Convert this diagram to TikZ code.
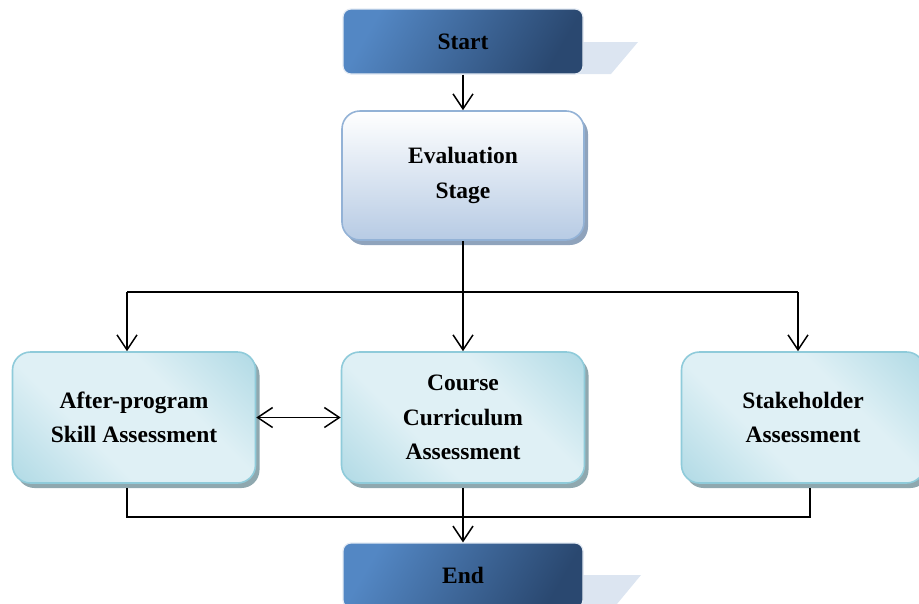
\documentclass[tikz,border=0pt]{standalone}
\usepackage{fontspec}
\setmainfont{Liberation Serif}
\usepackage{tikz}
\usepackage{xcolor}
\usetikzlibrary{arrows.meta,positioning,shapes,calc,shadows}
\definecolor{termtop}{HTML}{5387C4}
\definecolor{termbot}{HTML}{2A4870}
\definecolor{termrim}{HTML}{E4EBF4}
\definecolor{termghost}{HTML}{DCE5F1}
\definecolor{stagetop}{HTML}{FFFFFF}
\definecolor{stagebot}{HTML}{B7CBE4}
\definecolor{stagerim}{HTML}{93B2D6}
\definecolor{stageshade}{HTML}{8FA3BC}
\definecolor{cyanlight}{HTML}{DFF0F5}
\definecolor{cyandark}{HTML}{93CCDB}
\definecolor{cyanrim}{HTML}{8FCBDA}
\definecolor{cyanshade}{HTML}{8FA8AF}
\definecolor{ink}{HTML}{000000}
\pgfdeclarehorizontalshading{cyanband}{100bp}{color(0bp)=(cyandark); color(38bp)=(cyanlight); color(62bp)=(cyanlight); color(100bp)=(cyandark)}
\tikzset{
  termbox/.style={draw=termrim,line width=1.2pt,rounded corners=8pt,
                  left color=termtop,right color=termbot,shading angle=60,
                  minimum width=240pt,minimum height=65pt,
                  align=center,font=\fontsize{23.5}{34.5}\selectfont\bfseries},
  stagebox/.style={draw=stagerim,line width=1.6pt,rounded corners=18pt,
                   top color=stagetop,bottom color=stagebot,
                   drop shadow={shadow xshift=4pt,shadow yshift=-5pt,fill=stageshade,opacity=1},
                   minimum width=242pt,minimum height=129pt,
                   align=center,font=\fontsize{23.5}{34.5}\selectfont\bfseries},
  assessbox/.style={draw=cyanrim,line width=1.6pt,rounded corners=18pt,
                    shading=cyanband,shading angle=45,
                    drop shadow={shadow xshift=4pt,shadow yshift=-5pt,fill=cyanshade,opacity=1},
                    minimum width=243pt,minimum height=131pt,
                    align=center,font=\fontsize{23.5}{34.5}\selectfont\bfseries},
  joinline/.style={draw=ink,line width=1.5pt},
  flowarr/.style={-{Straight Barb[length=15pt,width=20pt,line width=1.5pt]},line width=1.5pt,draw=ink},
  bothwayarr/.style={{Straight Barb[length=15pt,width=20pt,line width=1.5pt]}-{Straight Barb[length=15pt,width=20pt,line width=1.5pt]},line width=1.5pt,draw=ink}
}

\begin{document}
\begin{tikzpicture}[x=1pt,y=-1pt]
  \useasboundingbox (0,0) rectangle (919,603);
  % pale tabs behind the start and end boxes
  \fill[termghost] (570,42) -- (638,42) -- (611,74) -- (570,74) -- cycle;
  \fill[termghost] (570,575) -- (641,575) -- (612,610) -- (570,610) -- cycle;

  \node[termbox] (start) at (463,41.5) {Start};
  \node[stagebox] (eval) at (463,175.5) {Evaluation\\Stage};
  \node[assessbox] (after) at (134,417.5) {After-program\\Skill Assessment};
  \node[assessbox] (course) at (463,417.5) {Course\\Curriculum\\Assessment};
  \node[assessbox] (stake) at (803,417.5) {Stakeholder\\Assessment};
  \node[termbox] (end) at (463,575.5) {End};

  % split below the evaluation stage
  \coordinate (brL) at (127,292);
  \coordinate (brR) at (798,292);
  \draw[flowarr] (start.south) -- (eval.north);
  \draw[joinline] (brL) -- (brR);
  \draw[flowarr] (brL) -- (brL |- after.north);
  \draw[flowarr] (brR) -- (brR |- stake.north);
  \draw[flowarr] (eval.south) -- (course.north);
  \draw[bothwayarr] (after.east) -- (course.west);

  % merge into the end box
  \coordinate (mgL) at (127,517);
  \coordinate (mgR) at (810,517);
  \draw[joinline] ($(after.south -| mgL)+(0,4)$) -- (mgL) -- (mgR) -- ($(stake.south -| mgR)+(0,4)$);
  \draw[flowarr] ($(course.south)+(0,4)$) -- (end.north);
\end{tikzpicture}
\end{document}
